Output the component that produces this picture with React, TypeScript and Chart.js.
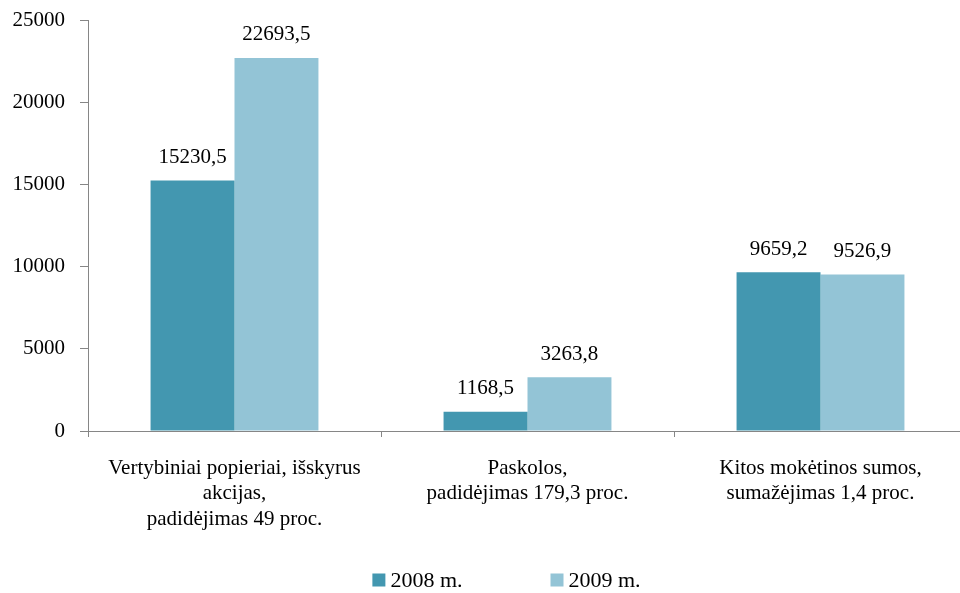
import React, { useEffect, useRef } from 'react';
import { Chart, registerables } from 'chart.js';

Chart.register(...registerables);

const categories: string[][] = [
  ['Vertybiniai popieriai, išskyrus', 'akcijas,', 'padidėjimas 49 proc.'],
  ['Paskolos,', 'padidėjimas 179,3 proc.'],
  ['Kitos mokėtinos sumos,', 'sumažėjimas 1,4 proc.'],
];
const seriesNames = ['2008 m.', '2009 m.'];
const seriesColors = ['#4397B0', '#93C4D6'];
const values2008 = [15230.5, 1168.5, 9659.2];
const values2009 = [22693.5, 3263.8, 9526.9];
const yMin = 0;
const yMax = 25000;
const yStep = 5000;

const FONT = "'Liberation Serif', 'Times New Roman', serif";

const dataLabels = {
  id: 'dataLabels',
  afterDatasetsDraw(chart: any) {
    const ctx = chart.ctx;
    ctx.save();
    ctx.font = `21px ${FONT}`;
    ctx.fillStyle = '#000';
    ctx.textAlign = 'center';
    ctx.textBaseline = 'middle';
    chart.data.datasets.forEach((ds: any, di: number) => {
      const meta = chart.getDatasetMeta(di);
      meta.data.forEach((el: any, i: number) => {
        const v = ds.data[i] as number;
        ctx.fillText(v.toFixed(1).replace('.', ','), el.x, el.y - 23);
      });
    });
    ctx.restore();
  },
};

const bottomLegend = {
  id: 'bottomLegend',
  afterDraw(chart: any) {
    const ctx = chart.ctx;
    ctx.save();
    ctx.font = `22px ${FONT}`;
    ctx.textBaseline = 'middle';
    ctx.textAlign = 'left';
    const box = 13;
    const gapBoxText = 5;
    const gapItems = 88;
    const items = chart.data.datasets.map((ds: any) => ({
      text: ds.label as string,
      color: ds.backgroundColor as string,
      w: box + gapBoxText + ctx.measureText(ds.label).width,
    }));
    const total = items.reduce((a: number, it: any) => a + it.w, 0) + gapItems * (items.length - 1);
    let x = chart.width / 2 - total / 2 - 3;
    const cy = 580;
    items.forEach((it: any) => {
      ctx.fillStyle = it.color;
      ctx.fillRect(x, cy - box / 2, box, box);
      ctx.fillStyle = '#000';
      ctx.fillText(it.text, x + box + gapBoxText, cy + 1);
      x += it.w + gapItems;
    });
    ctx.restore();
  },
};

export default function App() {
  const ref = useRef<HTMLCanvasElement>(null);
  useEffect(() => {
    if (!ref.current) return;
    Chart.defaults.font.family = FONT;
    const chart = new Chart(ref.current, {
      type: 'bar',
      data: {
        labels: categories,
        datasets: [
          { label: seriesNames[0], data: values2008, backgroundColor: seriesColors[0], borderWidth: 0 },
          { label: seriesNames[1], data: values2009, backgroundColor: seriesColors[1], borderWidth: 0 },
        ],
      },
      options: {
        animation: false,
        responsive: true,
        maintainAspectRatio: false,
        layout: { padding: { top: 20, left: 0, right: 0, bottom: 0 } },
        datasets: { bar: { categoryPercentage: 0.573, barPercentage: 1 } },
        plugins: {
          tooltip: { enabled: false },
          legend: { display: false },
        },
        scales: {
          x: {
            ticks: {
              color: '#000',
              font: { size: 21, lineHeight: 1.2, family: FONT },
              padding: 19,
              maxRotation: 0,
              autoSkip: false,
            },
            grid: { drawOnChartArea: false, color: '#868686', tickLength: 6, offset: true },
            border: { color: '#868686' },
            afterFit: (s: any) => { s.height = 162; s.paddingTop = 0; s.paddingBottom = 0; },
          },
          y: {
            min: yMin,
            max: yMax,
            ticks: {
              stepSize: yStep,
              color: '#000',
              font: { size: 21, family: FONT },
              padding: 15,
              callback: (v: any) => String(v),
            },
            grid: { drawOnChartArea: false, color: '#868686', tickLength: 8 },
            border: { color: '#868686' },
            afterFit: (s: any) => { s.width = 88; s.paddingTop = 0; s.paddingBottom = 0; },
          },
          y2: {
            position: 'right',
            display: true,
            ticks: { display: false },
            grid: { display: false },
            border: { display: false },
            afterFit: (s: any) => { s.width = 52; s.paddingTop = 0; s.paddingBottom = 0; },
          },
        },
      },
      plugins: [dataLabels, bottomLegend],
    });
    return () => chart.destroy();
  }, []);
  return (
    <div style={{ position: 'fixed', left: 0, top: 0, width: 960, height: 593, overflow: 'hidden', background: '#fff' }}>
      <div style={{ position: 'relative', width: 1019, height: 593 }}>
        <canvas ref={ref} />
      </div>
    </div>
  );
}
